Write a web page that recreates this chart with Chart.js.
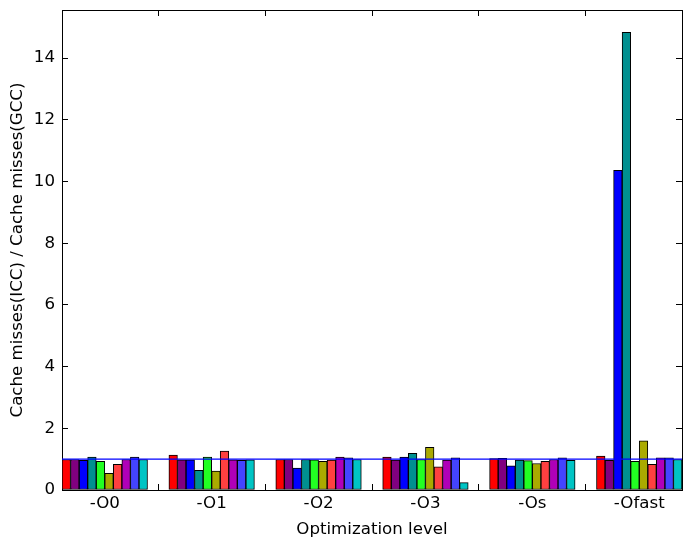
<!DOCTYPE html>
<html>
<head>
<meta charset="utf-8">
<script src="https://cdn.jsdelivr.net/npm/chart.js@4"></script>
<style>
  body { margin: 0; background: #fff; }
  #wrap { width: 691px; height: 548px; }
</style>
</head>
<body>
<div id="wrap"><canvas id="chart" width="691" height="548"></canvas></div>
<script>
// optimization levels on the x axis
const levels = ["-O0", "-O1", "-O2", "-O3", "-Os", "-Ofast"];

// ratio ICC/GCC per benchmark, one value per optimization level
const bench1 = [0.99, 1.13, 0.99, 1.07, 1.02, 1.10];
const bench2 = [0.99, 0.98, 0.99, 0.97, 1.03, 0.96];
const bench3 = [0.96, 0.98, 0.71, 1.07, 0.78, 10.36];
const bench4 = [1.07, 0.64, 0.99, 1.19, 0.97, 14.84];
const bench5 = [0.93, 1.07, 0.98, 0.99, 0.95, 0.93];
const bench6 = [0.54, 0.61, 0.93, 1.38, 0.86, 1.59];
const bench7 = [0.83, 1.26, 0.97, 0.75, 0.93, 0.83];
const bench8 = [0.99, 0.98, 1.07, 0.97, 0.99, 1.04];
const bench9 = [1.07, 0.96, 1.04, 1.04, 1.04, 1.04];
const bench10 = [0.99, 0.98, 0.99, 0.24, 0.96, 0.99];

const benches = [bench1, bench2, bench3, bench4, bench5, bench6, bench7, bench8, bench9, bench10];
const barColors = ["#ff0000", "#800080", "#0000ff", "#009090", "#22ff22",
                   "#aaaa00", "#ff4040", "#b000b8", "#4444ff", "#00c4c4"];

const yTicks = [0, 2, 4, 6, 8, 10, 12, 14];
const baseline = 1;

const barWidth = 0.08;
const xMax = levels.length - 1 + benches.length * barWidth;
const yMax = 15.56;
const font = { family: "DejaVu Sans", size: 16.67 };

const datasets = benches.map((vals, j) => ({
  type: "bar",
  data: vals.map((v, g) => ({ x: g + j * barWidth + barWidth / 2, y: v })),
  backgroundColor: barColors[j],
  borderColor: "#000",
  borderWidth: 1,
  borderSkipped: false,
  grouped: false,
  categoryPercentage: 1,
  barPercentage: 1,
  order: 1,
}));

datasets.push({
  type: "line",
  data: [{ x: 0, y: baseline }, { x: xMax, y: baseline }],
  borderColor: "#0000ff",
  borderWidth: 1.3,
  pointRadius: 0,
  order: 0,
});

function groupTicks(scale) {
  scale.ticks = levels.map((_, i) => ({ value: i + benches.length * barWidth / 2 }));
}
function valueTicks(scale) {
  scale.ticks = yTicks.map((v) => ({ value: v }));
}
function fitSize(w, h) {
  return (s) => {
    if (w !== null) s.width = w;
    if (h !== null) s.height = h;
    s.paddingTop = 0;
    s.paddingBottom = 0;
    s.paddingLeft = 0;
    s.paddingRight = 0;
  };
}

const inTicks = { drawOnChartArea: false, tickLength: -6, color: "#000", lineWidth: 1 };

new Chart(document.getElementById("chart"), {
  type: "bar",
  data: { datasets: datasets },
  options: {
    responsive: false,
    animation: false,
    layout: { padding: { top: 10, right: 9, left: 0, bottom: 0 } },
    plugins: { legend: { display: false }, tooltip: { enabled: false } },
    scales: {
      x: {
        type: "linear",
        position: "bottom",
        offset: false,
        min: 0,
        max: xMax,
        afterBuildTicks: groupTicks,
        afterFit: fitSize(null, 58),
        grid: inTicks,
        border: { color: "#000", width: 1 },
        ticks: {
          color: "#000",
          font: font,
          padding: 10,
          maxRotation: 0,
          autoSkip: false,
          callback: (v, i) => levels[i],
        },
        title: {
          display: true,
          text: "Optimization level",
          color: "#000",
          font: font,
          padding: { top: 0, bottom: 8 },
        },
      },
      x2: {
        type: "linear",
        position: "top",
        offset: false,
        min: 0,
        max: xMax,
        afterBuildTicks: groupTicks,
        afterFit: fitSize(null, 0),
        grid: inTicks,
        border: { color: "#000", width: 1 },
        ticks: { display: false },
      },
      y: {
        type: "linear",
        position: "left",
        min: 0,
        max: yMax,
        afterBuildTicks: valueTicks,
        afterFit: fitSize(62, null),
        grid: inTicks,
        border: { color: "#000", width: 1 },
        ticks: { color: "#000", font: font, padding: 13 },
        title: {
          display: true,
          text: "Cache misses(ICC) / Cache misses(GCC)",
          color: "#000",
          font: font,
          padding: { top: 8, bottom: 0 },
        },
      },
      y2: {
        type: "linear",
        position: "right",
        min: 0,
        max: yMax,
        afterBuildTicks: valueTicks,
        afterFit: fitSize(0, null),
        grid: inTicks,
        border: { color: "#000", width: 1 },
        ticks: { display: false },
      },
    },
  },
});
</script>
</body>
</html>
